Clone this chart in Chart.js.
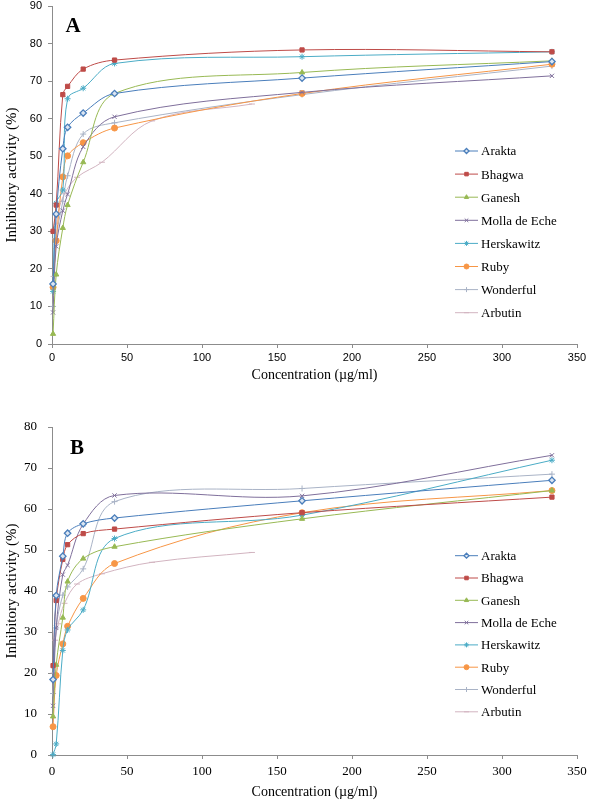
<!DOCTYPE html>
<html>
<head>
<meta charset="utf-8">
<script src="https://cdn.jsdelivr.net/npm/chart.js@4.4.1/dist/chart.umd.min.js"></script>
<style>
  body { margin: 0; background: #fff; }
  canvas { display: block; }
</style>
</head>
<body>
<canvas id="chartA" width="600" height="402"></canvas>
<canvas id="chartB" width="600" height="402"></canvas>
<script>
// --- Data ---
const seriesNames = ['Arakta', 'Bhagwa', 'Ganesh', 'Molla de Eche', 'Herskawitz', 'Ruby', 'Wonderful', 'Arbutin'];
const conc = [0.7, 2.8, 7.2, 10.4, 20.8, 41.7, 166.7, 333.3];      // µg/ml, pomegranate extracts
const concArbutin = [1.04, 2.08, 4.17, 8.33, 16.7, 33.3, 66.7, 133.3];
const xTicks = [0, 50, 100, 150, 200, 250, 300, 350];

// panel A
const aArakta     = [16.0, 34.6, 52.0, 57.7, 61.5, 66.7, 70.8, 75.2];
const aBhagwa     = [30.0, 37.0, 66.4, 68.6, 73.2, 75.6, 78.3, 77.8];
const aGanesh     = [2.7, 18.5, 30.9, 37.0, 48.4, 66.7, 72.3, 75.4];
const aMolla      = [8.4, 26.0, 35.5, 39.9, 52.5, 60.5, 67.0, 71.4];
const aHerskawitz = [14.0, 37.5, 41.0, 65.3, 68.1, 74.7, 76.5, 77.8];
const aRuby       = [15.1, 27.5, 44.5, 50.1, 53.6, 57.5, 66.7, 74.5];
const aWonderful  = [10.0, 28.0, 38.0, 44.8, 55.9, 58.9, 66.4, 74.0];
const aArbutin    = [18.0, 28.0, 35.0, 40.0, 44.4, 48.4, 59.4, 63.9];

// panel B
const bArakta     = [18.4, 38.9, 48.5, 54.1, 56.4, 57.8, 62.0, 67.0];
const bBhagwa     = [21.8, 37.7, 47.7, 51.3, 54.0, 55.1, 59.1, 62.9];
const bGanesh     = [9.4, 22.0, 33.5, 42.3, 47.9, 50.8, 57.6, 64.5];
const bMolla      = [12.0, 31.0, 44.0, 46.3, 56.3, 63.3, 63.2, 73.1];
const bHerskawitz = [0.1, 2.7, 25.5, 30.5, 35.4, 52.8, 58.5, 71.9];
const bRuby       = [6.9, 19.4, 27.1, 31.4, 38.2, 46.7, 59.1, 64.5];
const bWonderful  = [15.0, 31.0, 39.0, 41.0, 45.4, 61.8, 65.0, 68.5];
const bArbutin    = [20.0, 28.0, 32.0, 37.0, 41.7, 44.2, 47.0, 49.4];

// --- Styles ---
const STYLES = [
  { color: '#4A7EBB', fill: '#DCE6F2', style: 'rectRot', r: 3.2, bw: 1.3 },
  { color: '#BE4B48', fill: '#BE4B48', style: 'rect', r: 3, bw: 1 },
  { color: '#98B954', fill: '#98B954', style: 'triangle', r: 3, bw: 1 },
  { color: '#7F6F9B', fill: '#7F6F9B', style: 'crossRot', r: 3, bw: 1 },
  { color: '#4BACC6', fill: '#4BACC6', style: 'star', r: 3, bw: 1 },
  { color: '#F79646', fill: '#F79646', style: 'circle', r: 3, bw: 1 },
  { color: '#A9B3C6', fill: '#A9B3C6', style: 'cross', r: 3, bw: 1 },
  { color: '#D2B4C0', fill: '#D2B4C0', style: 'line', r: 3, bw: 1 }
];
const AXIS_COLOR = '#8C8C8C';
const SERIF = '"Liberation Serif", "Times New Roman", serif';
const SANS = '"Liberation Sans", Arial, sans-serif';

function pts(xs, ys) {
  return xs.map((x, i) => ({ x: x, y: ys[i] }));
}

function makeDatasets(lists) {
  return lists.map((ys, i) => {
    const s = STYLES[i];
    const xs = i === 7 ? concArbutin : conc;
    return {
      label: seriesNames[i],
      data: pts(xs, ys),
      showLine: true,
      tension: 0.35,
      borderColor: s.color,
      borderWidth: 1,
      backgroundColor: s.fill,
      pointStyle: s.style,
      pointRadius: s.r,
      pointBorderColor: s.color,
      pointBackgroundColor: s.fill,
      pointBorderWidth: s.bw,
      clip: false
    };
  });
}

// legend + panel letter drawn inside the plot
function overlayPlugin(letter, letterX, letterY, legY, legStep) {
  return {
    id: 'overlay' + letter,
    afterDraw(chart) {
      const ctx = chart.ctx;
      ctx.save();
      ctx.fillStyle = '#000';
      ctx.font = 'bold 21px ' + SERIF;
      ctx.textAlign = 'center';
      ctx.textBaseline = 'middle';
      ctx.fillText(letter, letterX, letterY);

      ctx.font = '13px ' + SERIF;
      ctx.textAlign = 'left';
      chart.data.datasets.forEach((ds, i) => {
        const y = legY + i * legStep;
        ctx.strokeStyle = ds.borderColor;
        ctx.lineWidth = 1;
        ctx.beginPath();
        ctx.moveTo(455, y);
        ctx.lineTo(478, y);
        ctx.stroke();
        ctx.strokeStyle = ds.pointBorderColor;
        ctx.fillStyle = ds.pointBackgroundColor;
        ctx.lineWidth = ds.pointBorderWidth;
        Chart.helpers.drawPoint(ctx, { pointStyle: ds.pointStyle, radius: 2.5, rotation: 0, borderWidth: ds.pointBorderWidth }, 466.5, y);
        ctx.fillStyle = '#000';
        ctx.fillText(ds.label, 481, y + 1);
      });
      ctx.restore();
    }
  };
}

function buildChart(id, lists, cfg) {
  return new Chart(document.getElementById(id), {
    type: 'scatter',
    data: { datasets: makeDatasets(lists) },
    options: {
      responsive: false,
      animation: false,
      layout: { padding: { left: 0, right: 23, top: cfg.top, bottom: 0 } },
      plugins: { legend: { display: false }, tooltip: { enabled: false } },
      scales: {
        x: {
          type: 'linear', min: 0, max: 350,
          afterBuildTicks: s => { s.ticks = xTicks.map(v => ({ value: v })); },
          afterFit: s => { s.height = cfg.xHeight; s.paddingLeft = 0; s.paddingRight = 0; },
          grid: { drawOnChartArea: false, drawTicks: true, tickLength: 4, color: AXIS_COLOR },
          border: { display: true, color: AXIS_COLOR },
          ticks: { color: '#000', font: cfg.tickFont, padding: cfg.xTickPad, maxRotation: 0 },
          title: {
            display: true, text: 'Concentration (µg/ml)', color: '#000',
            font: { family: SERIF, size: 14 }, padding: { top: 0, bottom: cfg.xTitlePad }
          }
        },
        y: {
          min: 0, max: cfg.yMax,
          ticks: { stepSize: 10, color: '#000', font: cfg.tickFont, padding: cfg.yTickPad },
          afterFit: s => { s.width = 52; s.paddingTop = 0; s.paddingBottom = 0; },
          grid: { drawOnChartArea: false, drawTicks: true, tickLength: 4, color: AXIS_COLOR },
          border: { display: true, color: AXIS_COLOR },
          title: {
            display: true, text: 'Inhibitory activity (%)', color: '#000',
            font: { family: SERIF, size: 15 }, padding: { top: 3, bottom: 0 }
          }
        }
      }
    },
    plugins: [overlayPlugin(cfg.letter, cfg.letterX, cfg.letterY, cfg.legY, cfg.legStep)]
  });
}

buildChart('chartA',
  [aArakta, aBhagwa, aGanesh, aMolla, aHerskawitz, aRuby, aWonderful, aArbutin],
  { top: 6, xHeight: 58, yMax: 90, tickFont: { family: SANS, size: 11 }, xTickPad: 3, yTickPad: 6,
    xTitlePad: 18, letter: 'A', letterX: 73, letterY: 27, legY: 151, legStep: 23.1 });

buildChart('chartB',
  [bArakta, bBhagwa, bGanesh, bMolla, bHerskawitz, bRuby, bWonderful, bArbutin],
  { top: 25, xHeight: 49, yMax: 80, tickFont: { family: SERIF, size: 13 }, xTickPad: 5, yTickPad: 11,
    xTitlePad: 3, letter: 'B', letterX: 77, letterY: 47, legY: 153.7, legStep: 22.3 });
</script>
</body>
</html>
